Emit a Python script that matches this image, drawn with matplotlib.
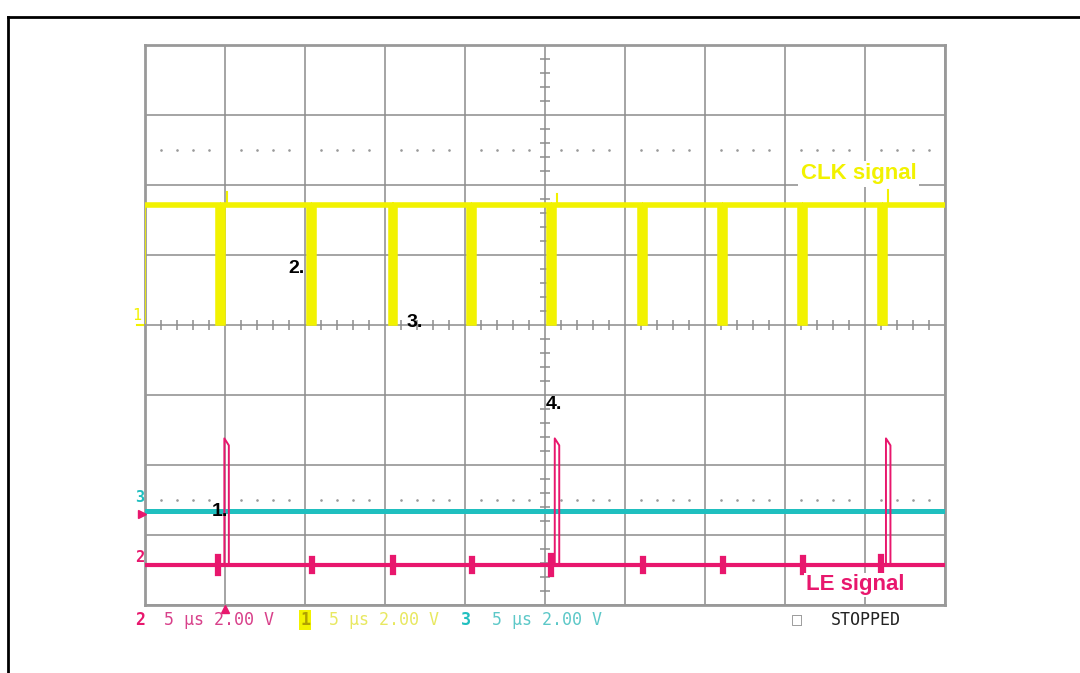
import numpy as np
import matplotlib
matplotlib.use("Agg")
from matplotlib import pyplot as plt
from matplotlib.lines import Line2D

# scope settings: 5 us/div, 2 V/div, 10 x 8 divisions
time_div = 5.0
volt_div = 2.0

# channel 1 (CLK) - low going pulses, centre time in us
clk_pulses = [4.7, 10.4, 15.5, 20.4, 25.4, 31.1, 36.1, 41.1, 46.1]
clk_width = 0.3
clk_high = 3.42
clk_low = 0.05
# overshoot spikes after some rising edges (time, volts)
clk_spikes = [(5.15, 3.8), (25.75, 3.75), (46.45, 3.85)]

# channel 2 (LE) - high going pulses
le_pulses = [5.1, 25.75, 46.45]
le_width = 0.28
le_high = 3.42
le_peak = 3.62
# little bursts on LE baseline at every clock edge (time, half height V)
le_bursts = [(4.55, 0.22), (10.45, 0.18), (15.5, 0.2), (20.45, 0.18), (25.35, 0.25),
             (31.1, 0.18), (36.1, 0.18), (41.1, 0.2), (46.0, 0.22)]

# channel 3 - flat line
ch3_level = 0.0

# channel offsets in divisions
ch1_offset = 0.0
ch2_offset = -3.43
ch3_offset = -2.66

yellow = "#f2f200"
pink = "#e8176d"
cyan = "#1fbfbf"
grid_gray = "#8c8c8c"


def clk_trace():
    t = [0.0, 0.0]
    v = [clk_low, clk_high]
    for c in clk_pulses:
        t += [c - clk_width / 2, c - clk_width / 2, c + clk_width / 2, c + clk_width / 2]
        v += [clk_high, clk_low, clk_low, clk_high]
    t.append(50.0)
    v.append(clk_high)
    return np.array(t), np.array(v)


def to_div(v, off):
    return off + np.asarray(v) / volt_div


fig = plt.figure(figsize=(10.8, 6.73), dpi=100)
W, H = 1080, 673
ax = fig.add_axes([145 / W, 1 - 605 / H, 800 / W, 560 / H])
ax.set_xlim(0, 10 * time_div)
ax.set_ylim(-4, 4)
ax.set_xticks(np.arange(0, 51, time_div))
ax.set_yticks(np.arange(-4, 5, 1))
ax.grid(color=grid_gray, lw=1.1)
ax.tick_params(length=0, labelbottom=False, labelleft=False)
for s in ax.spines.values():
    s.set_color("#999999")
    s.set_linewidth(2)

# centre cross minor ticks
minor_x = [x for x in np.arange(1, 50, 1.0) if x % 5]
minor_y = [y for y in np.arange(-3.8, 3.9, 0.2) if abs(y - round(y)) > 1e-6]
ax.vlines(minor_x, -0.07, 0.07, color=grid_gray, lw=1.1)
ax.hlines(minor_y, 25 - 0.3, 25 + 0.3, color=grid_gray, lw=1.1)
# dotted rows
ax.scatter(minor_x, [2.5] * len(minor_x), s=0.8, color="#9a9a9a", zorder=2)
ax.scatter(minor_x, [-2.5] * len(minor_x), s=0.8, color="#9a9a9a", zorder=2)

# channel 1
t, v = clk_trace()
ax.plot(t[1:], to_div(v[1:], ch1_offset), color=yellow, lw=4, solid_joinstyle="miter", zorder=4)
ax.plot(t[:2], to_div(v[:2], ch1_offset), color=yellow, lw=1.2, zorder=4)
for ts, vs in clk_spikes:
    ax.plot([ts, ts], to_div([clk_high, vs], ch1_offset), color=yellow, lw=1.5, zorder=4)

# channel 3
ax.plot([0, 50], to_div([ch3_level, ch3_level], ch3_offset), color=cyan, lw=3.6, zorder=4)

# channel 2 baseline and pulses
ax.plot([0, 50], to_div([0, 0], ch2_offset), color=pink, lw=3.0, zorder=5)
for bt, bh in le_bursts:
    ax.plot([bt, bt], to_div([-bh, bh], ch2_offset), color=pink, lw=4.5, zorder=5)
for c in le_pulses:
    t0, t1 = c - le_width / 2, c + le_width / 2
    ax.plot([t0, t0, t1, t1], to_div([0, le_peak, le_high, 0], ch2_offset),
            color=pink, lw=1.4, zorder=5)

# annotations
num_font = dict(family="Liberation Sans", weight="bold", fontsize=14, color="black",
                va="center", zorder=6)
ax.text(4.15, -2.67, "1.", **num_font)
ax.text(8.95, 0.81, "2.", **num_font)
ax.text(16.35, 0.04, "3.", **num_font)
ax.text(25.05, -1.13, "4.", **num_font)

sig_font = dict(family="Liberation Sans", weight="bold", fontsize=16, va="center", zorder=6)
ax.text(41.0, 2.16, "CLK signal", color=yellow,
        bbox=dict(facecolor="white", edgecolor="none", pad=2), **sig_font)
ax.text(41.3, -3.71, "LE signal", color=pink,
        bbox=dict(facecolor="white", edgecolor="none", pad=1), **sig_font)

# channel markers on left edge
ax.text(-0.25, 0.13, "1", color=yellow, fontsize=11, family="DejaVu Sans Mono",
        ha="right", va="center", clip_on=False)
ax.plot([-0.5, 0], [0, 0], color=yellow, lw=1.5, clip_on=False)
ax.text(-0.05, -2.46, "3", color=cyan, fontsize=11, weight="bold", family="DejaVu Sans Mono",
        ha="right", va="center", clip_on=False)
ax.plot([-0.2], [-2.7], marker=">", color=pink, ms=6, clip_on=False, zorder=6)
ax.text(-0.05, -3.32, "2", color=pink, fontsize=11, weight="bold", family="DejaVu Sans Mono",
        ha="right", va="center", clip_on=False)
ax.plot([5.0], [-4.05], marker="^", color=pink, ms=6, clip_on=False, zorder=6)

# status row under graticule
mono = dict(family="DejaVu Sans Mono", fontsize=12, va="center")
ty = 1 - 620 / H
fig.text(135 / W, ty, "2", color=pink, weight="bold", **mono)
fig.text(164 / W, ty, "5 µs 2.00 V", color="#d8408a", **mono)
fig.text(300 / W, ty, "1", color="#b0a000", weight="bold",
         bbox=dict(facecolor=yellow, edgecolor="none", pad=1), **mono)
fig.text(329 / W, ty, "5 µs 2.00 V", color="#e8e860", **mono)
fig.text(461 / W, ty, "3", color=cyan, weight="bold", **mono)
fig.text(492 / W, ty, "5 µs 2.00 V", color="#5cc8c8", **mono)
fig.text(792 / W, ty, "□", color="#999999", **mono)
fig.text(831 / W, ty, "STOPPED", color="#222222", **mono)

# outer frame of the figure box
fig.add_artist(Line2D([8 / W, 1], [1 - 17 / H, 1 - 17 / H], color="black", lw=2))
fig.add_artist(Line2D([8 / W, 8 / W], [0, 1 - 17 / H], color="black", lw=2))

fig.savefig("out.png", dpi=100)
